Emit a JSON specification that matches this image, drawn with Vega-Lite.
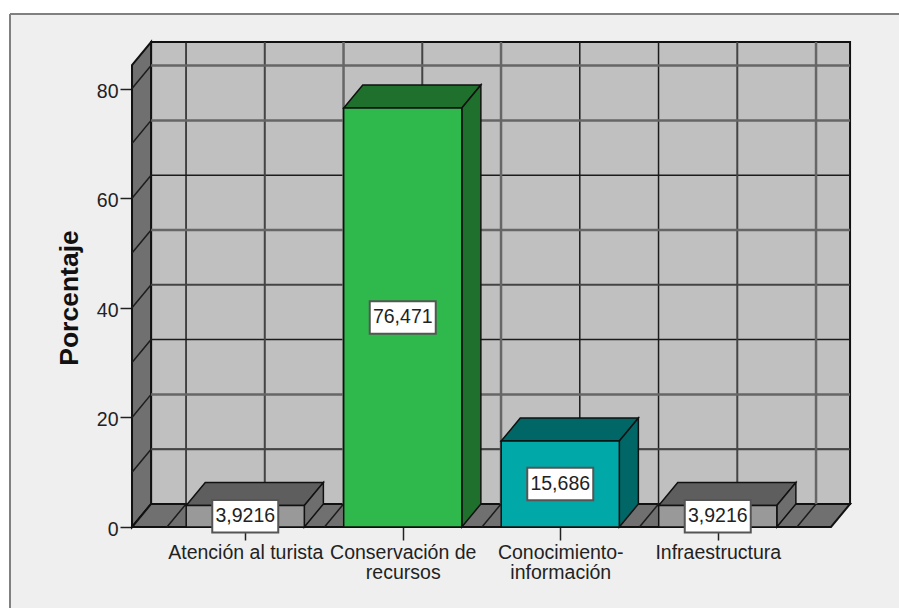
{"$schema":"https://vega.github.io/schema/vega-lite/v6.json","width":889,"height":594,"autosize":{"type":"none"},"padding":{"left":10,"top":14,"right":0,"bottom":0},"background":"white","view":{"fill":"#efefef","stroke":null},"config":{"font":"Liberation Sans"},"resolve":{"scale":{"color":"independent"}},
"encoding":{"x":{"field":"x","type":"quantitative","scale":{"domain":[-1.4937,4.1508],"nice":false,"zero":false},"axis":{"values":[0,1,2,3],"offset":-81,"orient":"bottom","zindex":0,"grid":false,"domain":false,"tickSize":13,"tickColor":"#222","tickWidth":1.5,"labelFontSize":19.5,"labelColor":"#222","labelPadding":3,"labelLineHeight":20,"labelOverlap":false,"labelFlush":false,"labelLimit":300,"title":null,"labelExpr":"datum.value==0?'Atención al turista':datum.value==1?['Conservación de','recursos']:datum.value==2?['Conocimiento-','información']:'Infraestructura'"}},
"y":{"field":"y","type":"quantitative","scale":{"domain":[-14.781,93.613],"nice":false,"zero":false},"axis":{"values":[0,20,40,60,80],"offset":-122,"orient":"left","grid":false,"domain":false,"tickSize":12,"tickColor":"#222","tickWidth":1.5,"labelFontSize":19.5,"labelColor":"#222","labelPadding":2,"labelOffset":2.5,"title":"Porcentaje","titleFontSize":26.5,"titleFontWeight":"bold","titleColor":"#111","titleX":-55,"titleY":283.5,"titleAngle":-90,"titleAlign":"center","titleBaseline":"alphabetic"}}},
"layer":[
{"data":{"values":[{"x":-1.4937,"x2":-1.4937,"y":-14.781,"y2":93.613},{"x":-1.4937,"x2":4.1508,"y":93.613,"y2":93.613}]},"mark":{"type":"rule","stroke":"#808080","strokeWidth":2},"encoding":{"x2":{"field":"x2"},"y2":{"field":"y2"}}},
{"data":{"values":[{"p":"fondo","x":-0.598,"y":4.2,"y2":88.5},{"p":"fondo","x":3.84,"y":4.2,"y2":88.5},{"p":"izq","x":-0.719,"y":0,"y2":84.3},{"p":"izq","x":-0.598,"y":4.2,"y2":88.5},{"p":"suelo","x":-0.719,"y":0,"y2":0},{"p":"suelo","x":-0.598,"y":0,"y2":4.2},{"p":"suelo","x":3.719,"y":0,"y2":4.2},{"p":"suelo","x":3.84,"y":4.2,"y2":4.2}]},"mark":{"type":"area","orient":"vertical","stroke":"#111","strokeWidth":2},"encoding":{"y2":{"field":"y2"},"color":{"field":"p","type":"nominal","legend":null,"scale":{"domain":["fondo","izq","suelo"],"range":["#c0c0c0","#707070","#707070"]}}}},
{"data":{"values":[{"x":-0.598,"x2":3.84,"y":14.2,"y2":14.2},{"x":-0.598,"x2":3.84,"y":34.2,"y2":34.2},{"x":-0.598,"x2":3.84,"y":64.2,"y2":64.2},{"x":-0.376,"x2":-0.376,"y":4.2,"y2":88.5},{"x":2.124,"x2":2.124,"y":4.2,"y2":88.5},{"x":2.624,"x2":2.624,"y":4.2,"y2":88.5},{"x":-0.719,"x2":-0.598,"y":10,"y2":14.2},{"x":-0.719,"x2":-0.598,"y":20,"y2":24.2},{"x":-0.719,"x2":-0.598,"y":30,"y2":34.2},{"x":-0.719,"x2":-0.598,"y":40,"y2":44.2},{"x":-0.719,"x2":-0.598,"y":50,"y2":54.2},{"x":-0.719,"x2":-0.598,"y":60,"y2":64.2},{"x":-0.719,"x2":-0.598,"y":70,"y2":74.2},{"x":-0.719,"x2":-0.598,"y":80,"y2":84.2},{"x":-0.497,"x2":-0.376,"y":0,"y2":4.2},{"x":0.003,"x2":0.124,"y":0,"y2":4.2},{"x":0.503,"x2":0.624,"y":0,"y2":4.2},{"x":1.003,"x2":1.124,"y":0,"y2":4.2},{"x":1.503,"x2":1.624,"y":0,"y2":4.2},{"x":2.003,"x2":2.124,"y":0,"y2":4.2},{"x":2.503,"x2":2.624,"y":0,"y2":4.2},{"x":3.003,"x2":3.124,"y":0,"y2":4.2},{"x":3.503,"x2":3.624,"y":0,"y2":4.2}]},"mark":{"type":"rule","stroke":"#1c1c1c","strokeWidth":1.5},"encoding":{"x2":{"field":"x2"},"y2":{"field":"y2"}}},
{"data":{"values":[{"x":-0.598,"x2":3.84,"y":44.2,"y2":44.2},{"x":-0.598,"x2":3.84,"y":14.2,"y2":14.2},{"x":0.124,"x2":0.124,"y":4.2,"y2":88.5},{"x":1.124,"x2":1.124,"y":4.2,"y2":88.5},{"x":3.124,"x2":3.124,"y":4.2,"y2":88.5}]},"mark":{"type":"rule","stroke":"#444444","strokeWidth":2},"encoding":{"x2":{"field":"x2"},"y2":{"field":"y2"}}},
{"data":{"values":[{"x":-0.598,"x2":3.84,"y":24.2,"y2":24.2},{"x":-0.598,"x2":3.84,"y":54.2,"y2":54.2},{"x":-0.598,"x2":3.84,"y":74.2,"y2":74.2},{"x":-0.598,"x2":3.84,"y":84.2,"y2":84.2},{"x":0.624,"x2":0.624,"y":4.2,"y2":88.5},{"x":1.624,"x2":1.624,"y":4.2,"y2":88.5},{"x":3.624,"x2":3.624,"y":4.2,"y2":88.5}]},"mark":{"type":"rule","stroke":"#666666","strokeWidth":2.5},"encoding":{"x2":{"field":"x2"},"y2":{"field":"y2"}}},
{"data":{"values":[
{"c":"a-top","t":"gris-sup","x":-0.375,"y":3.9216,"y2":3.9216},{"c":"a-top","t":"gris-sup","x":-0.254,"y":3.9216,"y2":8.1216},{"c":"a-top","t":"gris-sup","x":0.375,"y":3.9216,"y2":8.1216},{"c":"a-top","t":"gris-sup","x":0.496,"y":8.1216,"y2":8.1216},
{"c":"a-side","t":"gris-lat","x":0.375,"y":0,"y2":3.9216},{"c":"a-side","t":"gris-lat","x":0.496,"y":4.2,"y2":8.1216},
{"c":"a-front","t":"gris-fre","x":-0.375,"y":0,"y2":3.9216},{"c":"a-front","t":"gris-fre","x":0.375,"y":0,"y2":3.9216},
{"c":"b-top","t":"verde-sup","x":0.625,"y":76.471,"y2":76.471},{"c":"b-top","t":"verde-sup","x":0.746,"y":76.471,"y2":80.671},{"c":"b-top","t":"verde-sup","x":1.375,"y":76.471,"y2":80.671},{"c":"b-top","t":"verde-sup","x":1.496,"y":80.671,"y2":80.671},
{"c":"b-side","t":"verde-lat","x":1.375,"y":0,"y2":76.471},{"c":"b-side","t":"verde-lat","x":1.496,"y":4.2,"y2":80.671},
{"c":"b-front","t":"verde-fre","x":0.625,"y":0,"y2":76.471},{"c":"b-front","t":"verde-fre","x":1.375,"y":0,"y2":76.471},
{"c":"c-top","t":"teal-sup","x":1.625,"y":15.686,"y2":15.686},{"c":"c-top","t":"teal-sup","x":1.746,"y":15.686,"y2":19.886},{"c":"c-top","t":"teal-sup","x":2.375,"y":15.686,"y2":19.886},{"c":"c-top","t":"teal-sup","x":2.496,"y":19.886,"y2":19.886},
{"c":"c-side","t":"teal-lat","x":2.375,"y":0,"y2":15.686},{"c":"c-side","t":"teal-lat","x":2.496,"y":4.2,"y2":19.886},
{"c":"c-front","t":"teal-fre","x":1.625,"y":0,"y2":15.686},{"c":"c-front","t":"teal-fre","x":2.375,"y":0,"y2":15.686},
{"c":"d-top","t":"gris-sup","x":2.625,"y":3.9216,"y2":3.9216},{"c":"d-top","t":"gris-sup","x":2.746,"y":3.9216,"y2":8.1216},{"c":"d-top","t":"gris-sup","x":3.375,"y":3.9216,"y2":8.1216},{"c":"d-top","t":"gris-sup","x":3.496,"y":8.1216,"y2":8.1216},
{"c":"d-side","t":"gris-lat","x":3.375,"y":0,"y2":3.9216},{"c":"d-side","t":"gris-lat","x":3.496,"y":4.2,"y2":8.1216},
{"c":"d-front","t":"gris-fre","x":2.625,"y":0,"y2":3.9216},{"c":"d-front","t":"gris-fre","x":3.375,"y":0,"y2":3.9216}
]},"mark":{"type":"area","orient":"vertical","stroke":"#111","strokeWidth":1.5},"encoding":{"y2":{"field":"y2"},"detail":{"field":"c"},"color":{"field":"t","type":"nominal","legend":null,"scale":{"domain":["gris-sup","gris-lat","gris-fre","verde-sup","verde-lat","verde-fre","teal-sup","teal-lat","teal-fre"],"range":["#5e5e5e","#6e6e6e","#999999","#1f6f2d","#1f6f2d","#2fb84c","#006666","#006666","#00a8a8"]}}}},
{"data":{"name":"etiquetas","values":[{"x":0,"y":1.9608,"label":"3,9216"},{"x":1,"y":38.2355,"label":"76,471"},{"x":2,"y":7.843,"label":"15,686"},{"x":3,"y":1.9608,"label":"3,9216"}]},"mark":{"type":"point","filled":true,"fill":"#ffffff","opacity":1,"stroke":"#555555","strokeWidth":2,"shape":"M-1,-0.49H1V0.49H-1Z","size":4356}},
{"data":{"name":"etiquetas"},"mark":{"type":"text","fontSize":19.5,"color":"#222","align":"center","baseline":"middle"},"encoding":{"text":{"field":"label"}}}
]}
